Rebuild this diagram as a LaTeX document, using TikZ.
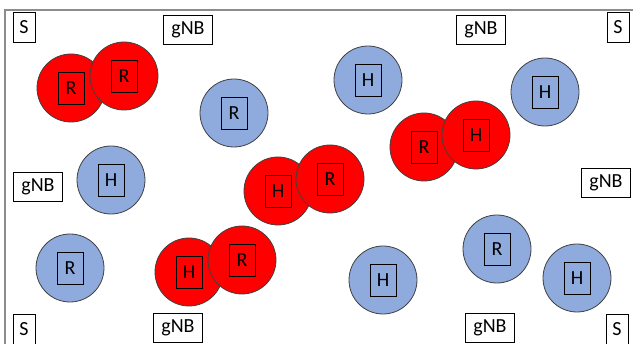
\documentclass[tikz,border=0pt]{standalone}
\usepackage{fontspec}
\setmainfont{Carlito}
\definecolor{ueblue}{HTML}{8FAADC}
\definecolor{uered}{HTML}{FF0000}
\definecolor{rim}{HTML}{404040}
\definecolor{framegray}{HTML}{8C8C8C}
\tikzset{
  lbl/.style={draw=black, fill=white, line width=0.8pt, inner sep=0pt,
              font=\fontsize{20}{22}\selectfont},
  sbox/.style={lbl, minimum width=22pt, minimum height=30pt},
  gbox/.style={lbl, minimum width=49pt, minimum height=29pt},
  uedisc/.style={circle, draw=rim, line width=0.8pt, minimum size=68pt, inner sep=0pt},
  blueue/.style={uedisc, fill=ueblue},
  redue/.style={uedisc, fill=uered},
  tag/.style={draw=black, line width=0.8pt, inner sep=0pt, minimum width=26pt,
              minimum height=32pt, font=\fontsize{20}{22}\selectfont},
}
% #1 name, #2 position, #3 disc style, #4 letter
\newcommand{\uedevice}[4]{%
  \node[#3] (#1) at (#2) {};
  \node[tag] (#1t) at (#1) {#4};
}
\begin{document}
\begin{tikzpicture}[x=1pt, y=-1pt]
\useasboundingbox (0,0) rectangle (633,344);
\clip (0,0) rectangle (633,344);
% area frame (open to the right and bottom)
\draw[framegray, line width=1.6pt] (5,360) -- (5,10) -- (650,10);

% sites and base stations
\node[sbox] (s1) at (24,27) {S};
\node[sbox] (s2) at (618,27) {S};
\node[sbox] (s3) at (24,329) {S};
\node[sbox] (s4) at (617,329) {S};
\node[gbox] (g1) at (188,30) {gNB};
\node[gbox] (g2) at (481,30) {gNB};
\node[gbox] (g3) at (38,187) {gNB};
\node[gbox] (g4) at (606,183) {gNB};
\node[gbox] (g5) at (178,328) {gNB};
\node[gbox] (g6) at (490,328) {gNB};

% single devices
\uedevice{b1}{234,113}{blueue}{R}
\uedevice{b2}{111,180}{blueue}{H}
\uedevice{b3}{70,268}{blueue}{R}
\uedevice{b4}{368,80}{blueue}{H}
\uedevice{b5}{545,92}{blueue}{H}
\uedevice{b6}{497,249}{blueue}{R}
\uedevice{b7}{577,278}{blueue}{H}
\uedevice{b8}{383,280}{blueue}{H}

% device pairs
\uedevice{p1a}{71,88}{redue}{R}
\uedevice{p1b}{124,76}{redue}{R}
\uedevice{p2a}{189,272}{redue}{H}
\uedevice{p2b}{242,260}{redue}{R}
\uedevice{p3a}{278,191}{redue}{H}
\uedevice{p3b}{330,179}{redue}{R}
\uedevice{p4a}{424,147}{redue}{R}
\uedevice{p4b}{476,135}{redue}{H}
\end{tikzpicture}
\end{document}
